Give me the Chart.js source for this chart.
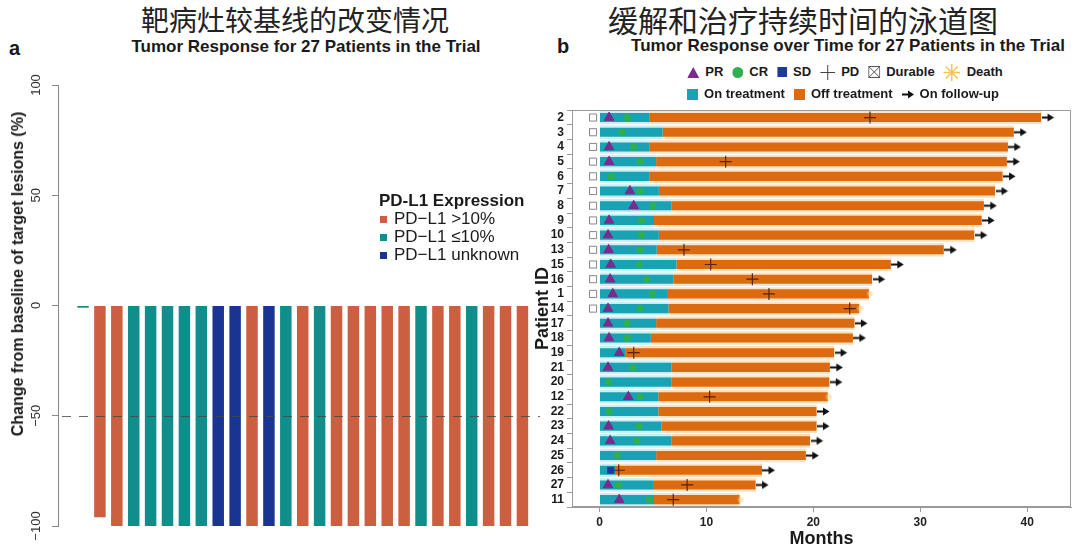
<!DOCTYPE html>
<html>
<head>
<meta charset="utf-8">
<script src="https://cdn.jsdelivr.net/npm/chart.js@4.4.0/dist/chart.umd.min.js"></script>
<style>
  body { margin:0; background:#fff; width:1080px; height:554px; position:relative; overflow:hidden;
         font-family:"Liberation Sans", Arial, sans-serif; color:#1a1a1a; }
  canvas { position:absolute; }
  .abs { position:absolute; white-space:nowrap; }
  .cn { font-family:"Noto Sans CJK SC", sans-serif; font-size:28px; line-height:30px; transform:translateX(-50%); color:#222; }
  .sub { font-weight:bold; font-size:17px; line-height:20px; transform:translateX(-50%); }
  .tag { font-weight:bold; font-size:20px; line-height:20px; }
  .ylab { font-weight:bold; font-size:16px; transform:translate(-50%,-50%) rotate(-90deg); }
  #legA { font-size:17px; line-height:18px; }
  #legA b { display:block; }
  #legA .sq { display:inline-block; width:7px; height:7px; margin:0 7px 0 1px; vertical-align:1px; }
  .legB { display:flex; align-items:center; transform:translateX(-50%); font-weight:bold; font-size:13px; line-height:18px; }
  .legB .it { display:inline-flex; align-items:center; margin-right:9px; }
  .legB .it:last-child { margin-right:0; }
  .legB svg { margin-right:6px; }
</style>
</head>
<body>
<canvas id="chartA" width="545" height="494" style="left:0;top:60px"></canvas>
<canvas id="chartB" width="550" height="454" style="left:530px;top:100px"></canvas>

<div class="abs cn" style="left:295px;top:4px">靶病灶较基线的改变情况</div>
<div class="abs sub" style="left:306px;top:37px">Tumor Response for 27 Patients in the Trial</div>
<div class="abs tag" style="left:9px;top:38px">a</div>
<div class="abs ylab" style="left:18px;top:274px">Change from baseline of target lesions (%)</div>
<div class="abs" id="legA" style="left:379px;top:192px">
  <b>PD-L1 Expression</b>
  <div><span class="sq" style="background:#CB5F3F"></span>PD−L1 &gt;10%</div>
  <div><span class="sq" style="background:#0F8E8C"></span>PD−L1 ≤10%</div>
  <div><span class="sq" style="background:#1A3591"></span>PD−L1 unknown</div>
</div>

<div class="abs cn" style="left:803px;top:4px;font-size:30px">缓解和治疗持续时间的泳道图</div>
<div class="abs sub" style="left:848px;top:36px">Tumor Response over Time for 27 Patients in the Trial</div>
<div class="abs tag" style="left:557px;top:36px">b</div>
<div class="abs legB" style="left:845px;top:63px">
  <span class="it"><svg width="12" height="11"><polygon points="6,0 12,11 0,11" fill="#7B2B8D"/></svg>PR</span>
  <span class="it"><svg width="11" height="11"><circle cx="5.5" cy="5.5" r="5.5" fill="#2FB04C"/></svg>CR</span>
  <span class="it"><svg width="10" height="10"><rect width="10" height="10" fill="#1C3A99"/></svg>SD</span>
  <span class="it"><svg width="15" height="15"><path d="M7.5 0V15M0 7.5H15" stroke="#444" stroke-width="1"/></svg>PD</span>
  <span class="it"><svg width="12" height="12"><rect x="0.5" y="0.5" width="11" height="11" fill="#fff" stroke="#555"/><path d="M1 1L11 11M11 1L1 11" stroke="#555"/></svg>Durable</span>
  <span class="it"><svg width="17" height="17"><path d="M8.5 0V17M0 8.5H17M2.5 2.5L14.5 14.5M14.5 2.5L2.5 14.5" stroke="#F3C54E" stroke-width="1.5"/></svg>Death</span>
</div>
<div class="abs legB" style="left:843px;top:85px">
  <span class="it"><svg width="11" height="11"><rect width="11" height="11" fill="#19A2B4"/></svg>On treatment</span>
  <span class="it"><svg width="11" height="11"><rect width="11" height="11" fill="#DB6A10"/></svg>Off treatment</span>
  <span class="it"><svg width="12" height="9"><path d="M0 4.5H7" stroke="#111" stroke-width="2"/><polygon points="6,0.5 12,4.5 6,8.5" fill="#111"/></svg>On follow-up</span>
</div>

<script>
Chart.defaults.font.family = '"Liberation Sans", Arial, sans-serif';
Chart.defaults.color = '#1a1a1a';

// ---- panel a: best change from baseline, one bar per patient ----
const waterfallChange = [-1, -96, -100, -100, -100, -100, -100, -100, -100, -100,
  -100, -100, -100, -100, -100, -100, -100, -100, -100, -100,
  -100, -100, -100, -100, -100, -100, -100];
const waterfallGroup = ['low', 'high', 'high', 'low', 'low', 'low', 'low', 'low', 'unknown', 'unknown',
  'high', 'unknown', 'low', 'high', 'low', 'high', 'high', 'high', 'high', 'high',
  'low', 'high', 'high', 'low', 'high', 'high', 'high'];
const groupKeys = ['high', 'low', 'unknown'];
const groupLabels = ['PD−L1 >10%', 'PD−L1 ≤10%', 'PD−L1 unknown'];
const groupColors = ['#CB5F3F', '#0F8E8C', '#1A3591'];
const yTicksA = [-100, -50, 0, 50, 100];

// ---- panel b: swimmer plot ----
const patientIds = ['2', '3', '4', '5', '6', '7', '8', '9', '10', '13', '15', '16', '1', '14',
  '17', '18', '19', '21', '20', '12', '22', '23', '24', '25', '26', '27', '11'];
const treatmentEnd = [4.7, 5.9, 4.7, 5.3, 4.7, 5.55, 6.75, 5.1, 5.55, 5.35, 7.2, 6.9, 6.4, 6.45,
  5.3, 4.8, 2.4, 6.75, 6.75, 5.5, 5.5, 5.8, 6.75, 5.3, 1.45, 5.0, 5.1];
const totalEnd = [41.3, 38.75, 38.2, 38.1, 37.7, 37.0, 35.95, 35.75, 35.05, 32.2, 27.25, 25.5, 25.2, 24.3,
  23.85, 23.7, 21.95, 21.55, 21.5, 21.35, 20.3, 20.3, 19.7, 19.3, 15.2, 14.6, 13.1];
const prIds = ['2', '4', '5', '7', '8', '9', '10', '13', '15', '16', '1', '14', '17', '18', '19', '21', '12', '23', '24', '27', '11'];
const prMonths = [0.9, 0.9, 0.9, 2.85, 3.2, 0.9, 0.8, 0.85, 1.05, 1.0, 1.25, 0.8, 0.8, 0.9, 1.85, 0.8, 2.7, 0.85, 1.0, 0.8, 1.85];
const crIds = ['2', '3', '4', '5', '6', '7', '8', '9', '10', '13', '15', '16', '1', '14', '17', '18', '21', '20', '12', '22', '23', '24', '25', '27', '11'];
const crMonths = [2.6, 2.1, 3.2, 3.8, 1.1, 3.8, 5.0, 3.9, 3.9, 3.8, 3.7, 4.4, 4.95, 3.8, 2.6, 2.6, 3.1, 0.85, 3.8, 0.9, 3.7, 3.5, 1.65, 1.8, 4.65];
const sdIds = ['26'];
const sdMonths = [1.05];
const pdIds = ['2', '5', '13', '15', '16', '1', '14', '19', '12', '26', '27', '11'];
const pdMonths = [25.3, 11.8, 7.9, 10.4, 14.3, 15.85, 23.4, 3.2, 10.3, 1.8, 8.2, 6.9];
const durableIds = ['2', '3', '4', '5', '6', '7', '8', '9', '10', '13', '15', '16', '1', '14'];
const deathIds = ['1', '14', '12', '11'];
const followUpIds = ['2', '3', '4', '5', '6', '7', '8', '9', '10', '13', '15', '16', '17', '18',
  '19', '21', '20', '22', '23', '24', '25', '26', '27'];
const xTicksB = [0, 10, 20, 30, 40];

const DURABLE_X = -0.6;   // marker column left of zero
const ARROW_GAP = 0.65;   // arrow sits just past the bar end

// dashed reference line at -50
const refLine = {
  id: 'refLine',
  afterDatasetsDraw(chart) {
    const {ctx, chartArea, scales} = chart;
    const py = Math.round(scales.y.getPixelForValue(-50)) + 0.5;
    ctx.save();
    ctx.strokeStyle = 'rgba(70,70,70,0.8)';
    ctx.lineWidth = 1;
    ctx.setLineDash([9, 8]);
    ctx.beginPath();
    ctx.moveTo(chartArea.left + 4, py);
    ctx.lineTo(chartArea.right, py);
    ctx.stroke();
    ctx.restore();
  }
};

new Chart(document.getElementById('chartA'), {
  type: 'bar',
  data: {
    datasets: groupKeys.map((g, k) => ({
      label: groupLabels[k],
      data: waterfallChange.map((v, i) => ({x: i + 1, y: v})).filter((p, i) => waterfallGroup[i] === g),
      backgroundColor: groupColors[k],
      grouped: false,
      categoryPercentage: 1,
      barPercentage: 0.68
    }))
  },
  options: {
    responsive: false,
    animation: false,
    layout: {padding: {left: 0, right: 5, top: 25, bottom: 28}},
    plugins: {legend: {display: false}, tooltip: {enabled: false}},
    scales: {
      x: {type: 'linear', min: -0.48, max: 28.04, offset: false, grid: {offset: false}, display: false},
      y: {
        min: -100, max: 100,
        afterFit: s => { s.width = 58; },
        afterBuildTicks: s => { s.ticks = yTicksA.map(v => ({value: v})); },
        border: {color: '#888'},
        grid: {drawOnChartArea: false, tickLength: 6, color: '#888'},
        ticks: {
          minRotation: 90, maxRotation: 90, crossAlign: 'center', padding: 1,
          font: {size: 13}, color: '#333',
          callback: v => (v < 0 ? '−' + Math.abs(v) : String(v))
        }
      }
    }
  },
  plugins: [refLine]
});

// arrow marker for "on follow-up"
const arrowImg = document.createElement('canvas');
arrowImg.width = 13; arrowImg.height = 9;
(function () {
  const g = arrowImg.getContext('2d');
  g.fillStyle = '#111';
  g.fillRect(0, 3.5, 7, 2);
  g.beginPath(); g.moveTo(6, 0.5); g.lineTo(12.5, 4.5); g.lineTo(6, 8.5); g.closePath(); g.fill();
})();

const endOf = id => totalEnd[patientIds.indexOf(id)];
const pts = (ids, xs) => ids.map((id, i) => ({x: xs[i], y: id}));

const boxPlugin = {
  id: 'box',
  afterDraw(chart) {
    const {ctx, chartArea: a} = chart;
    ctx.save();
    ctx.strokeStyle = '#9a9a9a';
    ctx.lineWidth = 1;
    ctx.strokeRect(Math.round(a.left) + 0.5, Math.round(a.top) + 0.5,
      Math.round(a.right - a.left) - 1, Math.round(a.bottom - a.top) - 1);
    ctx.restore();
  }
};

const band = {type: 'bar', grouped: false, categoryPercentage: 1, barPercentage: 0.92, order: 10};
const bar = {type: 'bar', grouped: false, categoryPercentage: 1, barPercentage: 0.62, order: 5};
const mark = {type: 'scatter', order: 1};

new Chart(document.getElementById('chartB'), {
  type: 'bar',
  data: {
    labels: patientIds,
    datasets: [
      {...band, label: 'on band', data: patientIds.map((id, i) => [0, treatmentEnd[i]]), backgroundColor: '#C9EEF4'},
      {...band, label: 'off band', data: patientIds.map((id, i) => [treatmentEnd[i], totalEnd[i]]), backgroundColor: '#FCE2C0'},
      {...bar, label: 'On treatment', data: patientIds.map((id, i) => [0, treatmentEnd[i]]), backgroundColor: '#19A2B4'},
      {...bar, label: 'Off treatment', data: patientIds.map((id, i) => [treatmentEnd[i], totalEnd[i]]), backgroundColor: '#DB6A10'},
      {...mark, label: 'Durable', data: durableIds.map(id => ({x: DURABLE_X, y: id})),
        pointStyle: 'rect', radius: 5, backgroundColor: '#fff', borderColor: '#888', borderWidth: 1},
      {...mark, label: 'Durable x', data: durableIds.map(id => ({x: DURABLE_X, y: id})),
        pointStyle: 'crossRot', radius: 5, borderColor: '#888', borderWidth: 1},
      {...mark, label: 'CR', data: pts(crIds, crMonths),
        pointStyle: 'circle', radius: 3.5, backgroundColor: '#2FB04C', borderWidth: 0},
      {...mark, label: 'SD', data: pts(sdIds, sdMonths),
        pointStyle: 'rect', radius: 5, backgroundColor: '#1C3A99', borderWidth: 0},
      {...mark, label: 'PR', data: pts(prIds, prMonths),
        pointStyle: 'triangle', radius: 5.5, backgroundColor: '#7B2B8D', borderColor: '#7B2B8D', borderWidth: 1},
      {...mark, label: 'PD', data: pts(pdIds, pdMonths),
        pointStyle: 'cross', radius: 6, borderColor: 'rgba(60,25,10,0.85)', borderWidth: 1.2},
      {...mark, label: 'Death', data: deathIds.map(id => ({x: endOf(id) + 0.1, y: id})),
        pointStyle: 'star', radius: 3.5, borderColor: 'rgba(247,212,130,0.6)', borderWidth: 1.2},
      {...mark, label: 'On follow-up', data: followUpIds.map(id => ({x: endOf(id) + ARROW_GAP, y: id})),
        pointStyle: arrowImg, radius: 6}
    ]
  },
  options: {
    indexAxis: 'y',
    responsive: false,
    animation: false,
    layout: {padding: {left: 0, right: 9, top: 3, bottom: 0}},
    plugins: {legend: {display: false}, tooltip: {enabled: false}},
    scales: {
      x: {
        type: 'linear', min: -2.57, max: 44.1,
        afterFit: s => { s.height = 47; },
        afterBuildTicks: s => { s.ticks = xTicksB.map(v => ({value: v})); },
        border: {color: '#9a9a9a'},
        grid: {drawOnChartArea: false, tickLength: 5, color: '#9a9a9a'},
        ticks: {font: {size: 12, weight: 'bold'}, color: '#222', padding: 3},
        title: {display: true, text: 'Months', font: {size: 18, weight: 'bold'}, color: '#1a1a1a', padding: {top: 0, bottom: 4}}
      },
      y: {
        type: 'category',
        afterFit: s => { s.width = 42; },
        border: {color: '#9a9a9a'},
        grid: {drawOnChartArea: false, tickLength: 5, color: '#9a9a9a'},
        ticks: {autoSkip: false, font: {size: 12, weight: 'bold'}, color: '#1a1a1a', padding: 3},
        title: {display: true, text: 'Patient ID', font: {size: 18, weight: 'bold'}, color: '#1a1a1a', padding: {top: 2, bottom: 0}}
      }
    }
  },
  plugins: [boxPlugin]
});
</script>
</body>
</html>
